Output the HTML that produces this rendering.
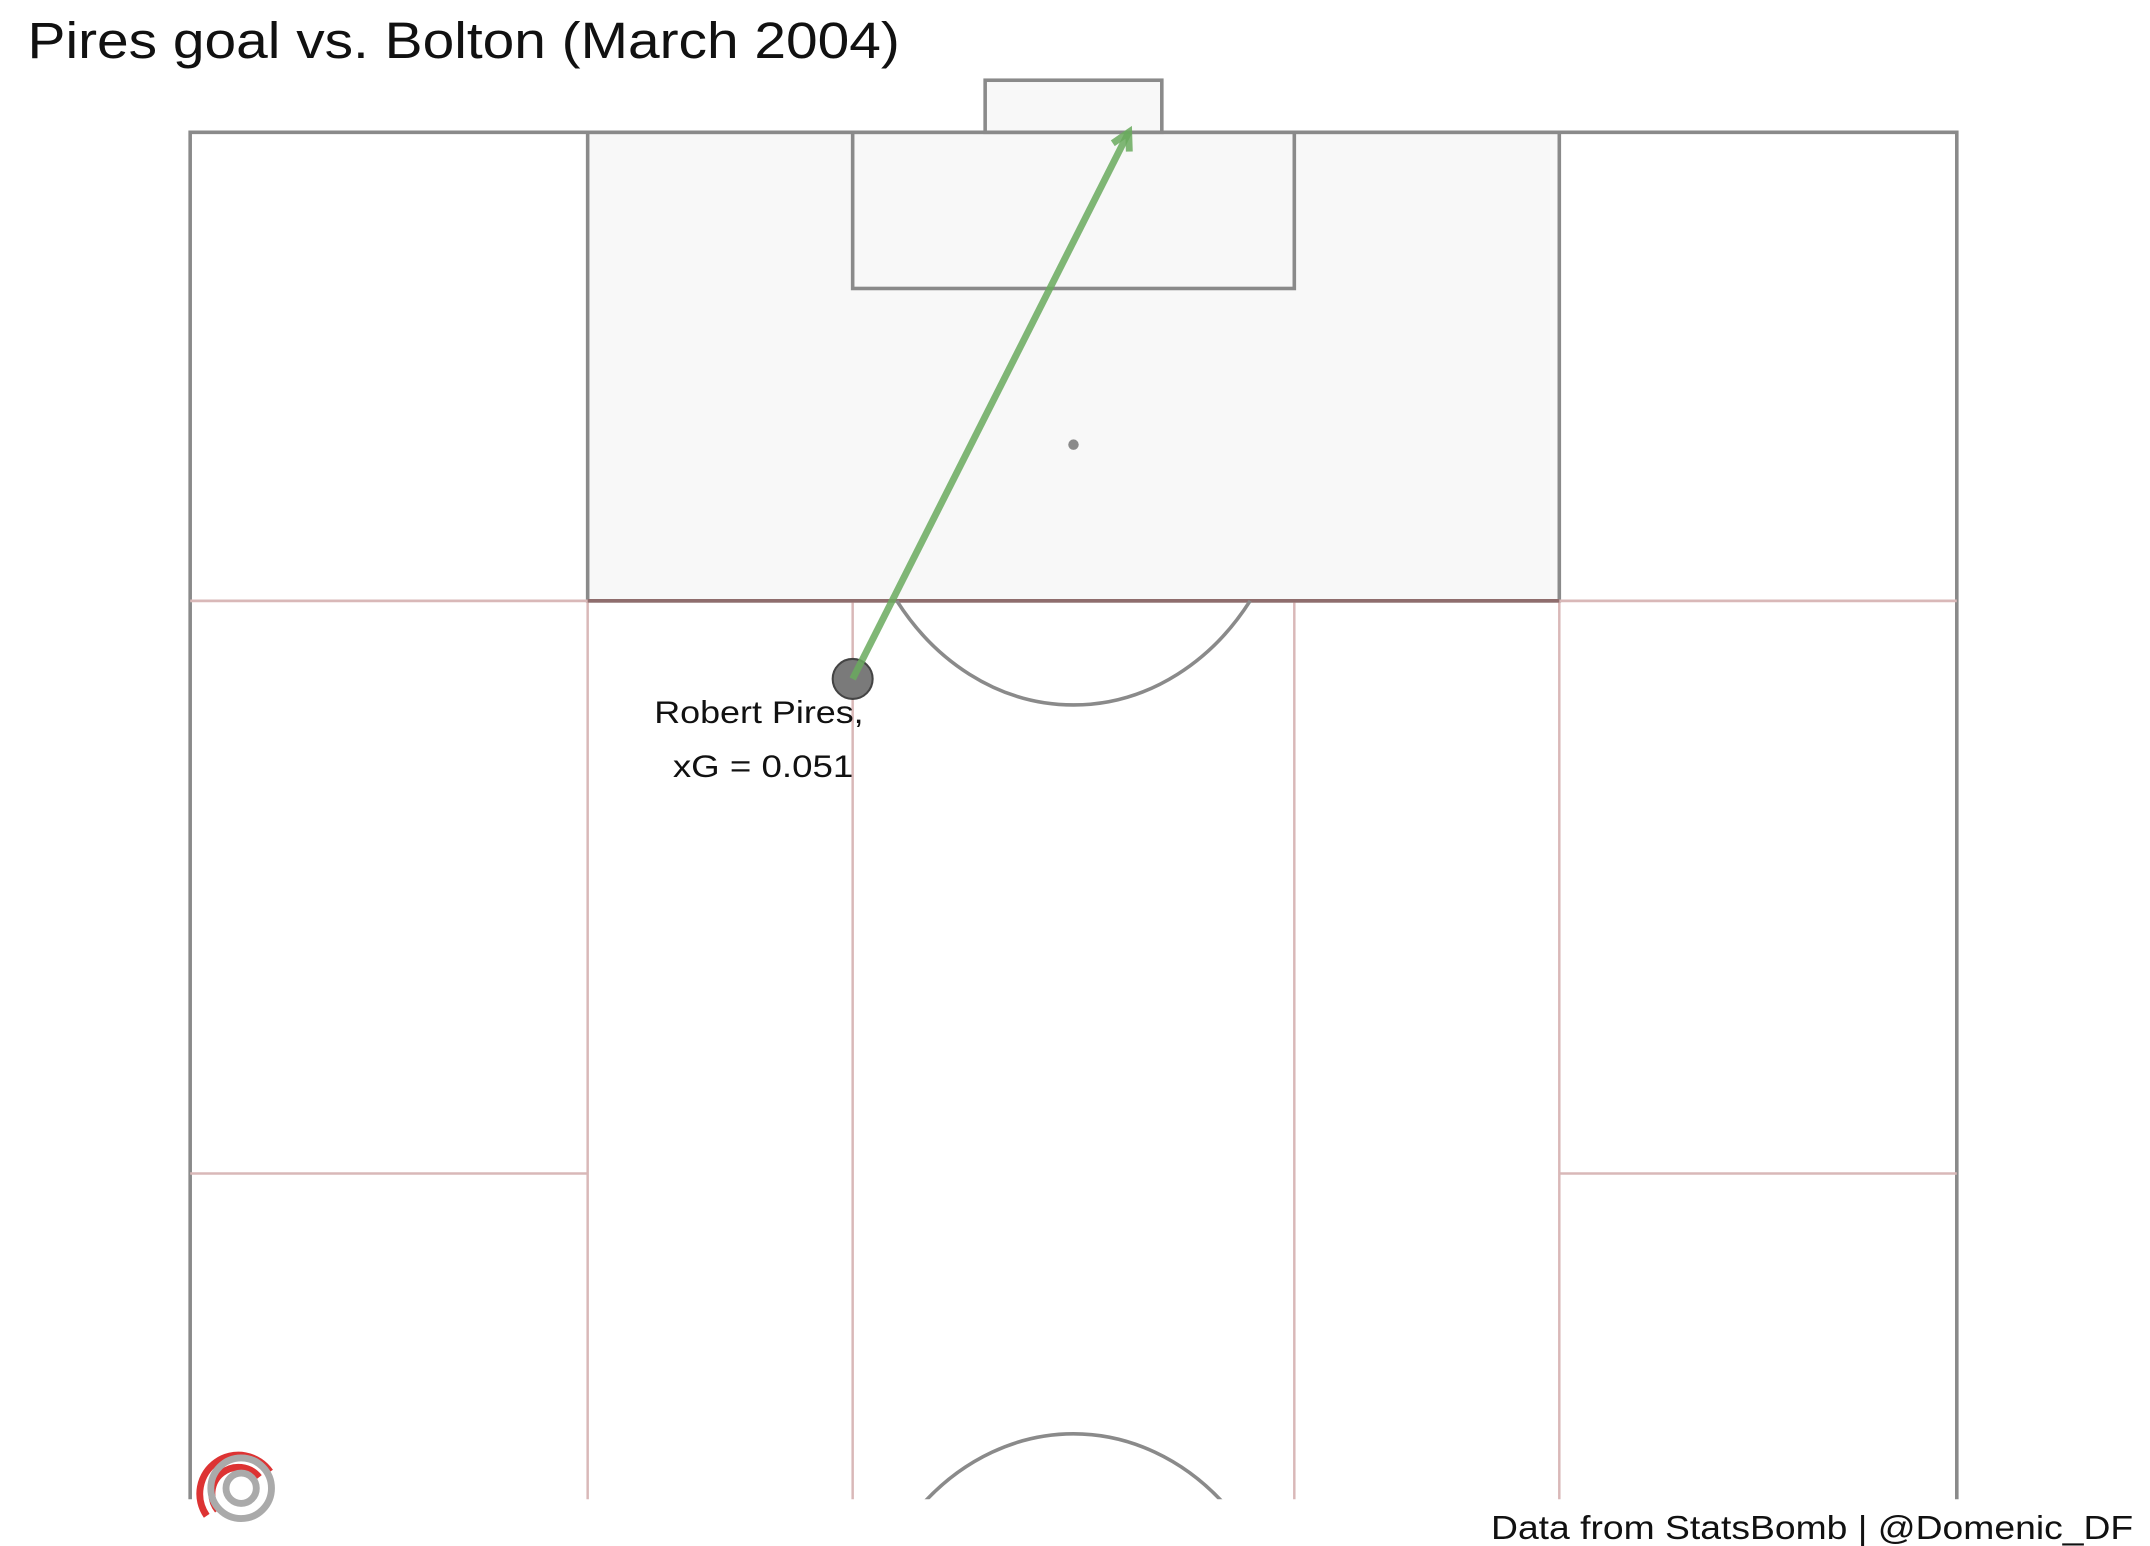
<!DOCTYPE html>
<html><head><meta charset="utf-8"><style>
html,body{margin:0;padding:0;background:#fff;overflow:hidden;}
svg{display:block;font-family:"Liberation Sans",sans-serif;}
</style></head><body>
<svg id="chart" width="2150" height="1546" viewBox="0 0 1560.2 1121.9" xmlns="http://www.w3.org/2000/svg">
<text x="20" y="42" font-size="37" fill="#111" textLength="633" lengthAdjust="spacingAndGlyphs">Pires goal vs. Bolton (March 2004)</text>
<g id="pitch"></g>
<g id="shots"></g>
<g fill="none" stroke-width="5">
<path d="M150,1100 A26,26 0 1 1 196,1068" stroke="#d33"/>
<path d="M158,1096 A17,17 0 1 1 188,1072" stroke="#d33"/>
<circle cx="175" cy="1080" r="22" stroke="#aaa"/>
<circle cx="175" cy="1080" r="11" stroke="#aaa"/>
</g>
<text x="1548" y="1117" font-size="24" text-anchor="end" fill="#111" textLength="466" lengthAdjust="spacingAndGlyphs">Data from StatsBomb |  @Domenic_DF</text>
</svg>
<script>
// Shot data (StatsBomb yards; x across pitch 0-80, y = distance from goal line)
const players = ["Robert Pires"];
const xgValues = [0.051];
const shotX = [30.0];
const shotY = [21.0];
const endX = [42.5];
const endY = [0.0];

const NS = "http://www.w3.org/2000/svg";
const X0 = 138, SX = 16.025, Y0 = 96, SY = 18.89;
function px(x){return X0 + x*SX;}
function py(y){return Y0 + y*SY;}
function mk(parent, tag, attrs){const e=document.createElementNS(NS,tag);for(const k in attrs)e.setAttribute(k,attrs[k]);parent.appendChild(e);return e;}

const pitch = document.getElementById('pitch');
const RED = "#d9b8b8", GRAY = "#8a8a8a", LW = 2.6;
let e;
e = mk(pitch,'rect',{x:px(18),y:py(0),width:px(62)-px(18),height:py(18)-py(0),fill:"#f8f8f8",stroke:GRAY,'stroke-width':LW});
 
e = mk(pitch,'rect',{x:px(30),y:py(0),width:px(50)-px(30),height:py(6)-py(0),fill:"#f8f8f8",stroke:GRAY,'stroke-width':LW});
 
e = mk(pitch,'rect',{x:px(36),y:py(-2),width:px(44)-px(36),height:py(0)-py(-2),fill:"#f8f8f8",stroke:GRAY,'stroke-width':LW});
 
e = mk(pitch,'path',{d:`M${px(0)},1088 L${px(0)},${py(0)} L${px(80)},${py(0)} L${px(80)},1088`,fill:"none",stroke:GRAY,'stroke-width':LW});
 
const vx=[18,30,50,62];
vx.forEach(v=>{const l=mk(pitch,'line',{x1:px(v),y1:py(18),x2:px(v),y2:1088,stroke:RED,'stroke-width':1.8});
 });
e = mk(pitch,'line',{x1:px(0),y1:py(18),x2:px(80),y2:py(18),stroke:RED,'stroke-width':2});
 
e = mk(pitch,'line',{x1:px(18),y1:py(18),x2:px(62),y2:py(18),stroke:"#8f6d6d",'stroke-width':LW});
 
[[0,18],[62,80]].forEach(s=>{const l=mk(pitch,'line',{x1:px(s[0]),y1:py(40),x2:px(s[1]),y2:py(40),stroke:RED,'stroke-width':1.8});
 });
e = mk(pitch,'circle',{cx:px(40),cy:py(12),r:3.8,fill:GRAY});
 
const rx=10*SX, ry=10*SY, dx=Math.sqrt(100-36);
e = mk(pitch,'path',{d:`M${px(40-dx)},${py(18)} A${rx},${ry} 0 0 0 ${px(40+dx)},${py(18)}`,fill:"none",stroke:GRAY,'stroke-width':LW});
 
const cp = mk(pitch,'clipPath',{id:'clp'});
mk(cp,'rect',{x:0,y:0,width:1560,height:1088});
e = mk(pitch,'ellipse',{cx:px(40),cy:py(60),rx:rx,ry:ry,fill:"none",stroke:GRAY,'stroke-width':LW,'clip-path':'url(#clp)'});
 

const shots = document.getElementById('shots');
players.forEach((p,i)=>{
  const x1=px(shotX[i]), y1=py(shotY[i]), x2=px(endX[i]), y2=py(endY[i]);
  const c=mk(shots,'circle',{cx:x1,cy:y1,r:14.5,fill:"#7a7a7a",stroke:"#444",'stroke-width':1.5});
   
  const l=mk(shots,'line',{x1:x1,y1:y1,x2:x2,y2:y2,stroke:"#6aaa5e",'stroke-opacity':0.85,'stroke-width':5});
   
  const ang=Math.atan2(y2-y1,x2-x1), h=14;
  const a=mk(shots,'path',{d:`M${x2-h*Math.cos(ang-0.5)},${y2-h*Math.sin(ang-0.5)} L${x2},${y2} L${x2-h*Math.cos(ang+0.5)},${y2-h*Math.sin(ang+0.5)}`,fill:"none",stroke:"#6aaa5e",'stroke-opacity':0.85,'stroke-width':5});
   
  const t1=mk(shots,'text',{x:x1-68,y:y1+32,'font-size':23,'text-anchor':'middle',fill:"#111",textLength:152,lengthAdjust:'spacingAndGlyphs'});
  t1.textContent=p+",";
   
  const t2=mk(shots,'text',{x:x1-65,y:y1+71,'font-size':23,'text-anchor':'middle',fill:"#111",textLength:131,lengthAdjust:'spacingAndGlyphs'});
  t2.textContent="xG = "+xgValues[i].toFixed(3);
   
});
</script>
</body></html>
